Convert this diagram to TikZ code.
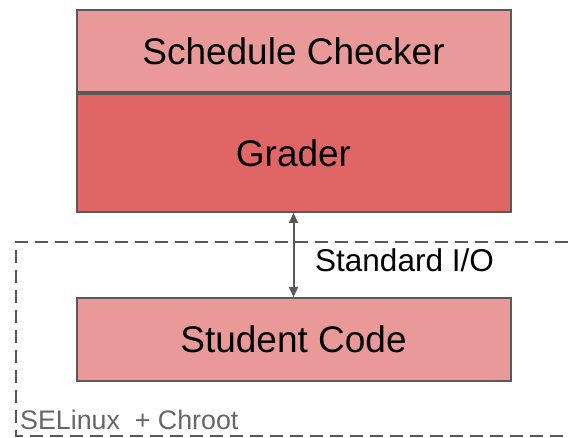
\documentclass[tikz,border=0pt]{standalone}
\usepackage{fontspec}
\setmainfont{Liberation Sans}
\usetikzlibrary{positioning,arrows.meta}
\definecolor{lightred}{HTML}{EA9999}
\definecolor{midred}{HTML}{E06666}
\definecolor{edgegray}{HTML}{595959}
\definecolor{textgray}{HTML}{666666}
\begin{document}
\begin{tikzpicture}[x=1pt,y=-1pt,>={Triangle[length=10pt,width=9pt]},
    layer/.style={draw=edgegray,line width=2pt,minimum width=434pt,inner sep=0pt,font=\fontsize{37}{44}\selectfont},
    lbl/.style={inner sep=0pt,font=\fontsize{31.5}{37}\selectfont}]
    \useasboundingbox (0,0) rectangle (568,438);
    % sandbox
    \draw[edgegray,line width=2pt,dash pattern=on 13pt off 7pt] (568,242) -- (16,242) -- (16,436) -- (568,436);
    \node[anchor=base west,text=textgray,inner sep=0pt,font=\fontsize{26.8}{32}\selectfont] (sandbox) at (20,429) {SELinux \ + Chroot};
    % stack
    \node[layer,fill=lightred,minimum height=82pt] (checker) at (293.5,51) {Schedule Checker};
    \node[layer,fill=midred,minimum height=118pt,below=0pt of checker] (grader) {Grader};
    \node[layer,fill=lightred,minimum height=83pt] (student) at (293.5,339.5) {Student Code};
    \draw[<->,edgegray,line width=2pt] (grader.south) -- (student.north);
    \node[lbl,anchor=base west] (io) at (315,272) {Standard I/O};
\end{tikzpicture}
\end{document}
